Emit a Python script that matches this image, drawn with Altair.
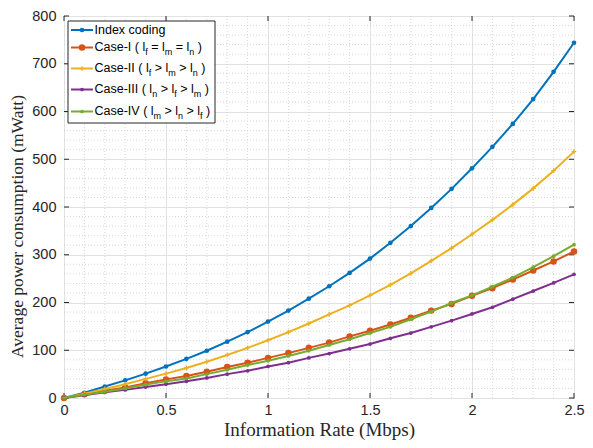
import altair as alt
import pandas as pd

# ---------------- data ----------------
rate = [0.0, 0.1, 0.2, 0.3, 0.4, 0.5, 0.6, 0.7, 0.8, 0.9, 1.0, 1.1, 1.2,
        1.3, 1.4, 1.5, 1.6, 1.7, 1.8, 1.9, 2.0, 2.1, 2.2, 2.3, 2.4, 2.5]

index_coding = [0, 11, 24, 37, 51, 66, 82, 99, 118, 138, 160, 183, 208,
                234, 262, 292, 325, 360, 398, 438, 481, 526, 574, 626, 683, 744]
case_1 = [0, 8, 15, 22, 31, 39, 46, 55, 65, 74, 84, 94, 105,
          116, 129, 141, 154, 168, 183, 197, 214, 230, 248, 267, 286, 307]
case_2 = [0, 9, 19, 29, 40, 51, 63, 76, 90, 105, 121, 138, 156,
          175, 194, 215, 237, 261, 287, 314, 343, 373, 405, 439, 476, 516]
case_3 = [0, 6, 12, 17, 23, 29, 35, 42, 50, 57, 66, 74, 84,
          93, 103, 113, 125, 136, 149, 162, 176, 190, 207, 224, 241, 259]
case_4 = [0, 7, 13, 20, 28, 35, 41, 50, 59, 69, 78, 88, 99,
          111, 123, 136, 149, 165, 181, 199, 215, 233, 252, 274, 297, 321]

series_names = ["Index coding", "Case-I", "Case-II", "Case-III", "Case-IV"]
series_values = [index_coding, case_1, case_2, case_3, case_4]
series_colors = ["#0072BD", "#D95319", "#EDB120", "#7E2F8E", "#77AC30"]

x_ticks = [0, 0.5, 1, 1.5, 2, 2.5]
y_ticks = [0, 100, 200, 300, 400, 500, 600, 700, 800]
x_minor = [0.1, 0.2, 0.3, 0.4, 0.6, 0.7, 0.8, 0.9, 1.1, 1.2, 1.3, 1.4,
           1.6, 1.7, 1.8, 1.9, 2.1, 2.2, 2.3, 2.4]
y_minor = [20, 40, 60, 80, 120, 140, 160, 180, 220, 240, 260, 280, 320, 340,
           360, 380, 420, 440, 460, 480, 520, 540, 560, 580, 620, 640, 660,
           680, 720, 740, 760, 780]

legend_rows = [
    [("Index coding", False)],
    [("Case-I ( l", False), ("f", True), (" = l", False), ("m", True),
     (" = l", False), ("n", True), (" )", False)],
    [("Case-II ( l", False), ("f", True), (" > l", False), ("m", True),
     (" > l", False), ("n", True), (" )", False)],
    [("Case-III ( l", False), ("n", True), (" > l", False), ("f", True),
     (" > l", False), ("m", True), (" )", False)],
    [("Case-IV ( l", False), ("m", True), (" > l", False), ("n", True),
     (" > l", False), ("f", True), (" )", False)],
]

# ---------------- layout ----------------
W, H = 510, 382
AX = "#262626"
SANS = "Liberation Sans"
SERIF = "Liberation Serif"

rows = []
for name, vals in zip(series_names, series_values):
    for xv, yv in zip(rate, vals):
        rows.append({"rate": xv, "power": yv, "series": name})
df = pd.DataFrame(rows)

xs = alt.Scale(domain=[0, 2.5], nice=False, zero=False)
ys = alt.Scale(domain=[0, 800], nice=False, zero=False)

xaxis = alt.Axis(values=x_ticks, format="~g", title="Information Rate (Mbps)",
                 titleFont=SERIF, titleFontSize=19, titleFontWeight="normal",
                 titleColor=AX, titleY=37, titleBaseline="alphabetic",
                 labelFont=SANS, labelFontSize=14.5, labelColor=AX,
                 labelPadding=5, ticks=False, domain=False, grid=True,
                 gridColor="#e2e2e2", gridWidth=1, labelFlush=False,
                 labelOverlap=False)
yaxis = alt.Axis(values=y_ticks, format="d",
                 title="Average power consumption (mWatt)",
                 titleFont=SERIF, titleFontSize=17.5, titleFontWeight="normal",
                 titleColor=AX, titleX=-42, titleY=210, titleAngle=270,
                 titleAlign="center", titleBaseline="alphabetic",
                 labelFont=SANS, labelFontSize=14.5, labelColor=AX,
                 labelPadding=8, ticks=False, domain=False, grid=True,
                 gridColor="#e2e2e2", gridWidth=1, labelFlush=False,
                 labelOverlap=False)

layers = []

# minor dotted grid
layers.append(
    alt.Chart(pd.DataFrame({"rate": x_minor}))
    .mark_rule(color="#cfcfcf", strokeDash=[1, 2], strokeWidth=0.8)
    .encode(x=alt.X("rate:Q", scale=xs, axis=xaxis), y=alt.value(0), y2=alt.value(H))
)
layers.append(
    alt.Chart(pd.DataFrame({"power": y_minor}))
    .mark_rule(color="#cfcfcf", strokeDash=[1, 2], strokeWidth=0.8)
    .encode(y=alt.Y("power:Q", scale=ys, axis=yaxis), x=alt.value(0), x2=alt.value(W))
)

# inward ticks on all four sides
xt = pd.DataFrame({"rate": x_ticks})
yt = pd.DataFrame({"power": y_ticks})
for y0, y1 in [(H, H - 5), (0, 5)]:
    layers.append(
        alt.Chart(xt).mark_rule(color=AX, strokeWidth=1)
        .encode(x=alt.X("rate:Q", scale=xs, axis=xaxis), y=alt.value(y0), y2=alt.value(y1))
    )
for x0, x1 in [(0, 5), (W, W - 5)]:
    layers.append(
        alt.Chart(yt).mark_rule(color=AX, strokeWidth=1)
        .encode(y=alt.Y("power:Q", scale=ys, axis=yaxis), x=alt.value(x0), x2=alt.value(x1))
    )

# series
marker_specs = {
    "Index coding": dict(shape="circle", size=22, filled=True),
    "Case-I": dict(shape="circle", size=42, filled=True),
    "Case-II": dict(shape="M-1,0L1,0M0,-1L0,1", size=22, filled=False, strokeWidth=1.3),
    "Case-III": dict(shape="circle", size=14, filled=True),
    "Case-IV": dict(shape="circle", size=14, filled=True),
}
for name, col in zip(series_names, series_colors):
    sub = df[df["series"] == name]
    enc = dict(x=alt.X("rate:Q", scale=xs, axis=xaxis),
               y=alt.Y("power:Q", scale=ys, axis=yaxis))
    layers.append(alt.Chart(sub).mark_line(color=col, strokeWidth=2).encode(**enc))
    spec = marker_specs[name]
    layers.append(alt.Chart(sub).mark_point(color=col, opacity=1, **spec).encode(**enc))

# legend (drawn manually to allow subscripts)
ARIAL = {'C': 722, 'a': 556, 's': 500, 'e': 556, '-': 333, 'I': 278, 'V': 667,
         ' ': 278, '(': 333, ')': 333, 'l': 222, 'f': 278, 'm': 833, 'n': 556,
         '=': 584, '>': 584, 'd': 556, 'x': 500, 'c': 500, 'o': 556, 'i': 222,
         'g': 556}


def tw(s, fs):
    return sum(ARIAL.get(ch, 556) for ch in s) * fs / 1000.0


one = alt.Data(values=[{}])
LX0, LX1, LY0, LY1 = 4, 151, 5, 107
layers.append(
    alt.Chart(one).mark_rect(fill="white", stroke=AX, strokeWidth=1)
    .encode(x=alt.value(LX0), x2=alt.value(LX1), y=alt.value(LY0), y2=alt.value(LY1))
)
row_y = [14, 31.5, 52.5, 73.5, 95.5]
MAIN_FS, SUB_FS = 12.5, 9
for name, col, ry, pieces in zip(series_names, series_colors, row_y, legend_rows):
    layers.append(
        alt.Chart(one).mark_rule(color=col, strokeWidth=2)
        .encode(x=alt.value(7), x2=alt.value(29), y=alt.value(ry))
    )
    spec = marker_specs[name]
    layers.append(
        alt.Chart(one).mark_point(color=col, opacity=1, **spec)
        .encode(x=alt.value(18), y=alt.value(ry))
    )
    cx = 30.5
    base = ry + 3.5
    for txt, is_sub in pieces:
        fs = SUB_FS if is_sub else MAIN_FS
        lead = len(txt) - len(txt.lstrip(" "))
        shown = txt.strip(" ")
        xpos = cx + tw(" " * lead, fs)
        layers.append(
            alt.Chart(one).mark_text(font=SANS, fontSize=fs, color="#000000",
                                     align="left", baseline="alphabetic")
            .encode(x=alt.value(xpos), y=alt.value(base + (4 if is_sub else 0)),
                    text=alt.value(shown))
        )
        cx += tw(txt, fs)

chart = (
    alt.layer(*layers)
    .properties(width=W, height=H,
                autosize=alt.AutoSizeParams(type="none"),
                padding={"left": 56, "top": 8, "right": 11, "bottom": 42},
                background="white")
    .configure_view(stroke=AX, strokeWidth=1)
)

chart.save("out.html", embed_options={"renderer": "svg", "actions": False})
